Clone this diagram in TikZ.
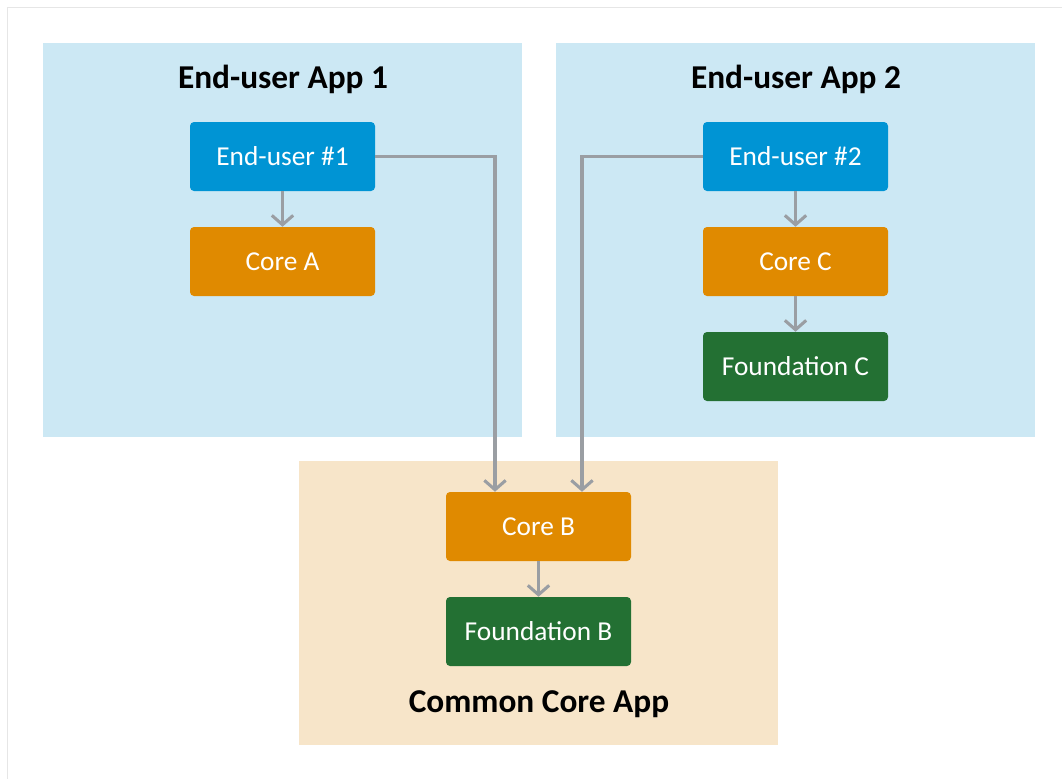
\documentclass[tikz,border=0pt]{standalone}
\usepackage{fontspec}
\setmainfont{Carlito}
\usetikzlibrary{arrows.meta}
\definecolor{appblue}{HTML}{CCE8F4}
\definecolor{appbeige}{HTML}{F7E5C9}
\definecolor{userblue}{HTML}{0094D4}
\definecolor{coreorange}{HTML}{E08A00}
\definecolor{foundgreen}{HTML}{237033}
\definecolor{linkgray}{HTML}{9A9EA3}
\definecolor{framegray}{HTML}{E6E6E6}
\tikzset{
  title/.style={font=\fontsize{25}{30}\selectfont\bfseries, text=black, anchor=center},
  box/.style={minimum width=185*0.75pt, minimum height=69*0.75pt, rounded corners=3pt,
    text=white, font=\fontsize{20.5}{24}\selectfont, inner sep=0pt, anchor=center},
  userbox/.style={box, fill=userblue},
  corebox/.style={box, fill=coreorange},
  foundbox/.style={box, fill=foundgreen},
  link/.style={draw=linkgray, line width=2.3pt, -{Straight Barb[length=7pt,width=16pt,line width=2.3pt]}}
}
\begin{document}
\begin{tikzpicture}[x=0.75pt, y=-0.75pt]
\useasboundingbox (0,0) rectangle (1062,779);
\fill[white] (0,0) rectangle (1062,779);
\draw[framegray, line width=1.2pt] (7.5,779) -- (7.5,7.5) -- (1062,7.5);
% regions
\fill[appblue] (43,43) rectangle (522,437);
\fill[appblue] (556,43) rectangle (1035,437);
\fill[appbeige] (299,461) rectangle (778,745);
% titles
\node[title] (t1) at (283,79) {End-user App 1};
\node[title] (t2) at (796,79) {End-user App 2};
\node[title] (t3) at (539,704) {Common Core App};
% boxes
\node[userbox] (eu1) at (282.5,156.5) {End-user \#1};
\node[corebox] (ca) at (282.5,261.5) {Core A};
\node[userbox] (eu2) at (795.5,156.5) {End-user \#2};
\node[corebox] (cc) at (795.5,261.5) {Core C};
\node[foundbox] (fc) at (795.5,366.5) {Foundation C};
\node[corebox] (cb) at (538.5,526.5) {Core B};
\node[foundbox] (fb) at (538.5,631.5) {Foundation B};
% connectors
\coordinate (k1) at (495,156.5);
\coordinate (k2) at (582,156.5);
\draw[link] (eu1) -- (ca);
\draw[link] (eu2) -- (cc);
\draw[link] (cc) -- (fc);
\draw[link] (cb) -- (fb);
\draw[link] (eu1.east) -- (k1) -- (k1 |- cb.north);
\draw[link] (eu2.west) -- (k2) -- (k2 |- cb.north);
\end{tikzpicture}
\end{document}
